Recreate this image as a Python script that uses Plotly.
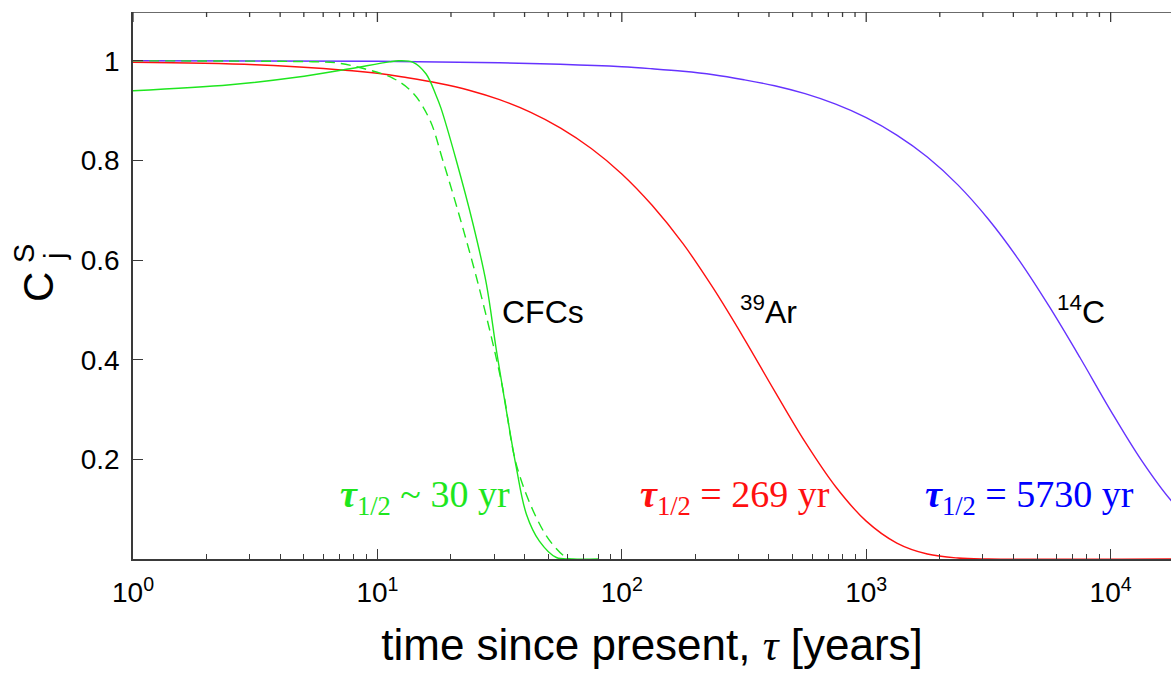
import plotly.graph_objects as go

# ---------------- data ----------------
tau_ar = [1, 3.16, 10, 13.3, 17.8, 23.7, 31.6, 42.2, 56.2, 75, 100, 133, 178, 237, 316, 422, 562, 750, 1000, 1334, 1778, 2371, 3162, 20000]
c_ar = [0.997, 0.992, 0.975, 0.966, 0.955, 0.941, 0.922, 0.897, 0.865, 0.824, 0.773, 0.710, 0.633, 0.543, 0.443, 0.337, 0.235, 0.145, 0.076, 0.032, 0.010, 0.002, 0.0, 0.0]

tau_c14 = [1, 10, 31.6, 56, 100, 133, 178, 237, 316, 422, 562, 750, 1000, 1334, 1778, 2371, 3162, 4217, 5623, 7499, 10000, 13335, 17783, 23714]
c_c14 = [1.0, 0.999, 0.996, 0.993, 0.988, 0.984, 0.979, 0.972, 0.962, 0.950, 0.934, 0.913, 0.886, 0.851, 0.807, 0.751, 0.682, 0.600, 0.506, 0.404, 0.298, 0.199, 0.116, 0.057]

tau_cfc = [1, 2.5, 4.66, 7.46, 11.2, 12.2, 14, 15.8, 17.4, 18.2, 21, 24.6, 27.9, 30.7, 33.7, 37, 40.7, 46, 54, 63, 80]
c_cfc = [0.94, 0.952, 0.967, 0.983, 0.998, 1.0, 0.997, 0.974, 0.93, 0.905, 0.801, 0.673, 0.553, 0.418, 0.298, 0.184, 0.09, 0.036, 0.003, 0.0, 0.0]

tau_cfc2 = [1, 4, 5.6, 6.8, 8.7, 11.6, 14, 16.4, 18.5, 21.7, 25.4, 29.7, 32.7, 37, 44.7, 52, 61, 70]
c_cfc2 = [1.0, 0.999, 0.998, 0.996, 0.985, 0.965, 0.935, 0.881, 0.801, 0.687, 0.566, 0.432, 0.338, 0.19, 0.083, 0.03, 0.0, 0.0]

x_tickvals = [1, 10, 100, 1000, 10000]
x_ticktext = ["10<sup>0</sup>", "10<sup>1</sup>", "10<sup>2</sup>", "10<sup>3</sup>", "10<sup>4</sup>"]
x_minor = [m * d for d in [1, 10, 100, 1000, 10000] for m in range(2, 10)]
y_tickvals = [0.2, 0.4, 0.6, 0.8, 1.0]
y_ticktext = ["0.2", "0.4", "0.6", "0.8", "1"]

GREEN = "#1ee61e"
RED = "#ff1010"
BLUE_LINE = "#6633ff"
BLUE_TXT = "#0000ff"
AXC = "#3a3a3a"
SANS = "Liberation Sans, Arial, sans-serif"
SERIF = "Liberation Serif, Times New Roman, serif"
XRANGE = [0, 4.247]
YTOP = 1.098
X_MAX = 10 ** XRANGE[1]
PX_PER_UNIT = (677 - 12 - 118) / YTOP  # plot height / y-range

fig = go.Figure()
fig.add_trace(go.Scatter(x=tau_c14, y=c_c14, mode="lines", line=dict(color=BLUE_LINE, width=1.4, shape="spline"), showlegend=False))
fig.add_trace(go.Scatter(x=tau_ar, y=c_ar, mode="lines", line=dict(color=RED, width=1.4, shape="spline"), showlegend=False))
fig.add_trace(go.Scatter(x=tau_cfc2, y=c_cfc2, mode="lines", line=dict(color=GREEN, width=1.4, dash="10px,6px", shape="spline"), showlegend=False))
fig.add_trace(go.Scatter(x=tau_cfc, y=c_cfc, mode="lines", line=dict(color=GREEN, width=1.4, shape="spline"), showlegend=False))

# top frame (box line with inward ticks), built from the tick lists and the axis range
fx, fy = [1, X_MAX, None], [YTOP, YTOP, None]
for v in x_tickvals:
    fx += [v, v, None]
    fy += [YTOP, YTOP - 10 / PX_PER_UNIT, None]
for v in x_minor:
    if v <= X_MAX:
        fx += [v, v, None]
        fy += [YTOP, YTOP - 5 / PX_PER_UNIT, None]
fig.add_trace(go.Scatter(x=fx, y=fy, mode="lines", line=dict(color=AXC, width=1.3), cliponaxis=False,
                         showlegend=False, hoverinfo="skip", connectgaps=False))

fig.update_layout(
    width=1171, height=677,
    margin=dict(l=133, r=0, t=12, b=118),
    paper_bgcolor="white", plot_bgcolor="white",
    font=dict(family=SANS, color="black"),
)
fig.update_xaxes(
    type="log", range=XRANGE,
    showline=True, linecolor=AXC, linewidth=1.5,
    showgrid=False, zeroline=False,
    ticks="inside", ticklen=10, tickwidth=1.2, tickcolor=AXC,
    tickvals=x_tickvals, ticktext=x_ticktext,
    tickfont=dict(size=28, family=SANS, color="black"),
    ticklabelstandoff=8,
    minor=dict(tickvals=x_minor, ticks="inside", ticklen=5, tickwidth=1.2, tickcolor=AXC, showgrid=False),
    title=dict(text="time since present, <span style=\"font-family:Liberation Serif\"><i>τ</i></span> [years]",
               font=dict(size=44, family=SANS, color="black"), standoff=22),
)
fig.update_yaxes(
    range=[0, YTOP],
    showline=True, linecolor=AXC, linewidth=1.5, mirror=False,
    showgrid=False, zeroline=False,
    ticks="inside", ticklen=10, tickwidth=1.2, tickcolor=AXC,
    tickvals=y_tickvals, ticktext=y_ticktext,
    tickfont=dict(size=28, family=SANS, color="black"),
    ticklabelstandoff=6,
)

ann = []
# y-axis title C_j^S (rotated), positions in pixels converted to paper coords
ann.append(dict(text="C", x=38, y=287, showarrow=False, textangle=-90,
                font=dict(size=42, family=SANS, color="black")))
ann.append(dict(text="S", x=24, y=254, showarrow=False, textangle=-90,
                font=dict(size=29, family=SANS, color="black")))
ann.append(dict(text="j", x=55, y=257, showarrow=False, textangle=-90,
                font=dict(size=29, family=SANS, color="black")))
plot_l, plot_r, plot_t, plot_b = 133, 1171, 12, 559
for a in ann:
    a["x"] = (a["x"] - plot_l) / (plot_r - plot_l)
    a["y"] = (plot_b - a["y"]) / (plot_b - plot_t)
    a["xref"] = "paper"
    a["yref"] = "paper"
    a["xanchor"] = "center"
    a["yanchor"] = "middle"

# curve labels (x in log10 units)
ann.append(dict(text="CFCs", x=1.676, y=0.496, xref="x", yref="y", showarrow=False,
                font=dict(size=32, family=SANS, color="black")))
ann.append(dict(text="<sup>39</sup>Ar", x=2.60, y=0.50, xref="x", yref="y", showarrow=False,
                font=dict(size=32, family=SANS, color="black")))
ann.append(dict(text="<sup>14</sup>C", x=3.88, y=0.50, xref="x", yref="y", showarrow=False,
                font=dict(size=32, family=SANS, color="black")))
ann.append(dict(text="<b><i>τ</i></b><sub>1/2</sub> ~ 30 yr", x=1.194, y=0.125, xref="x", yref="y", showarrow=False,
                font=dict(size=38, family=SERIF, color=GREEN)))
ann.append(dict(text="<b><i>τ</i></b><sub>1/2</sub> = 269 yr", x=2.462, y=0.125, xref="x", yref="y", showarrow=False,
                font=dict(size=38, family=SERIF, color=RED)))
ann.append(dict(text="<b><i>τ</i></b><sub>1/2</sub> = 5730 yr", x=3.668, y=0.125, xref="x", yref="y", showarrow=False,
                font=dict(size=38, family=SERIF, color=BLUE_TXT)))
fig.update_layout(annotations=ann)

fig.write_html("out.html")
